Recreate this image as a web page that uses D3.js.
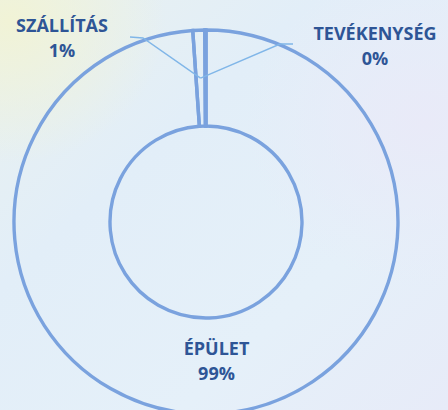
<!DOCTYPE html>
<html>
<head>
<meta charset="utf-8">
<script src="https://cdn.jsdelivr.net/npm/d3@7"></script>
<style>
  html, body { margin: 0; padding: 0; background: #e6f0f8; }
  svg { display: block; }
</style>
</head>
<body>
<svg id="chart" width="448" height="410"></svg>
<script>
// ---- data ----
const categories = ["ÉPÜLET", "SZÁLLÍTÁS", "TEVÉKENYSÉG"];
const values = [98.9, 1.0, 0.1];
const percentLabels = ["99%", "1%", "0%"];

// ---- layout ----
const W = 448, H = 410;
const cx = 206, cy = 222;
const rOuter = 192, rInner = 96;
const ringColor = "#7aa2de";
const leaderColor = "#80b6e8";
const textColor = "#2e5596";
// label anchor positions (centre x, baseline of first line)
const labelPos = {
  "ÉPÜLET": { x: 216.5, y: 355 },
  "SZÁLLÍTÁS": { x: 62, y: 32 },
  "TEVÉKENYSÉG": { x: 375, y: 40 }
};
const leaderStart = {
  "SZÁLLÍTÁS": [[130, 37], [143, 38]],
  "TEVÉKENYSÉG": [[293, 44], [280, 44]]
};

const svg = d3.select("#chart");
const defs = svg.append("defs");

// background (light sky / water)
const g1 = defs.append("linearGradient").attr("id", "bgBase").attr("x1", 0).attr("y1", 0).attr("x2", 1).attr("y2", 1);
g1.append("stop").attr("offset", "0%").attr("stop-color", "#e9f1ef");
g1.append("stop").attr("offset", "35%").attr("stop-color", "#e2eef8");
g1.append("stop").attr("offset", "70%").attr("stop-color", "#e5f0f9");
g1.append("stop").attr("offset", "100%").attr("stop-color", "#e7ebf8");
const rg = defs.append("radialGradient").attr("id", "bgYellow").attr("cx", 0.02).attr("cy", 0.05).attr("r", 0.35);
rg.append("stop").attr("offset", "0%").attr("stop-color", "#f1f3d6").attr("stop-opacity", 1);
rg.append("stop").attr("offset", "100%").attr("stop-color", "#f1f3d6").attr("stop-opacity", 0);
const rg2 = defs.append("radialGradient").attr("id", "bgLav").attr("cx", 0.95).attr("cy", 0.3).attr("r", 0.4);
rg2.append("stop").attr("offset", "0%").attr("stop-color", "#e9eaf8").attr("stop-opacity", 1);
rg2.append("stop").attr("offset", "100%").attr("stop-color", "#e9eaf8").attr("stop-opacity", 0);

svg.append("rect").attr("width", W).attr("height", H).attr("fill", "url(#bgBase)");
svg.append("rect").attr("width", W).attr("height", H).attr("fill", "url(#bgYellow)");
svg.append("rect").attr("width", W).attr("height", H).attr("fill", "url(#bgLav)");

// ---- donut ----
const pie = d3.pie().sort(null).value(d => d.value);
const data = categories.map((c, i) => ({ name: c, value: values[i], pct: percentLabels[i] }));
const arcs = pie(data);
const arc = d3.arc().innerRadius(rInner).outerRadius(rOuter);
const midArc = d3.arc().innerRadius((rInner + rOuter) / 2).outerRadius((rInner + rOuter) / 2);

const g = svg.append("g").attr("transform", `translate(${cx},${cy})`);
g.selectAll("path.slice")
  .data(arcs)
  .join("path")
  .attr("class", "slice")
  .attr("d", arc)
  .attr("fill", "none")
  .attr("stroke", ringColor)
  .attr("stroke-width", 3.4)
  .attr("stroke-linejoin", "miter");

// leader lines
const sliver = arcs.find(a => a.data.name === "SZÁLLÍTÁS");
const meet = midArc.centroid(sliver);
arcs.filter(a => leaderStart[a.data.name]).forEach(a => {
  const pts = leaderStart[a.data.name].map(p => [p[0], p[1]]);
  pts.push([meet[0] + cx, meet[1] + cy]);
  svg.append("path")
    .attr("d", d3.line()(pts))
    .attr("fill", "none")
    .attr("stroke", leaderColor)
    .attr("stroke-width", 1.4);
});

// labels
const fontFamily = "'Liberation Sans Narrow', 'Open Sans', sans-serif";
arcs.forEach(a => {
  const p = labelPos[a.data.name];
  const t = svg.append("text")
    .attr("x", p.x).attr("y", p.y)
    .attr("text-anchor", "middle")
    .attr("font-family", fontFamily)
    .attr("font-weight", "bold")
    .attr("font-size", 18)
    .attr("fill", textColor);
  t.append("tspan").attr("x", p.x).attr("y", p.y).text(a.data.name);
  t.append("tspan").attr("x", p.x).attr("y", p.y + 25).text(a.data.pct);
});
</script>
</body>
</html>
